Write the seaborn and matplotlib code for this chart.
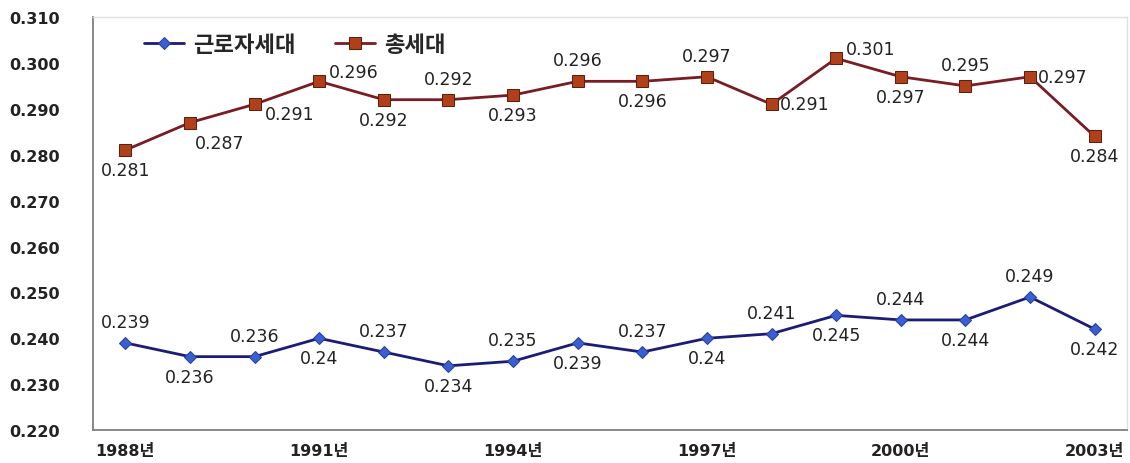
"""
Gini coefficient trend: worker households vs all households (1988-2003).
"""

import matplotlib
matplotlib.use('Agg')
import matplotlib.pyplot as plt
from matplotlib.ticker import FixedLocator, NullFormatter
import pandas as pd
import seaborn as sns

years = list(range(1988, 2004))
tick_years = [1988, 1991, 1994, 1997, 2000, 2003]
tick_labels = [f'{y}년' for y in tick_years]
y_ticks = [0.22, 0.23, 0.24, 0.25, 0.26, 0.27, 0.28, 0.29, 0.30, 0.31]

worker_name = '근로자세대'
total_name = '총세대'
worker_gini = [0.239, 0.236, 0.236, 0.240, 0.237, 0.234, 0.235, 0.239,
               0.237, 0.240, 0.241, 0.245, 0.244, 0.244, 0.249, 0.242]
total_gini = [0.281, 0.287, 0.291, 0.296, 0.292, 0.292, 0.293, 0.296,
              0.296, 0.297, 0.291, 0.301, 0.297, 0.295, 0.297, 0.284]

# where each data label sits relative to its marker
worker_place = ['above', 'below'] * 8
total_place = ['below', 'belowright', 'right_lo', 'right_hi', 'below', 'above',
               'below', 'above', 'below', 'above', 'right', 'right_hi',
               'below', 'above', 'right', 'below']

OFFSETS = {
    'above': ((0, 12), 'center', 'bottom'),
    'below': ((0, -11), 'center', 'top'),
    'belowright': ((30, -20), 'center', 'center'),
    'right': ((8, 0), 'left', 'center'),
    'right_lo': ((10, -10), 'left', 'center'),
    'right_hi': ((10, 9), 'left', 'center'),
}

sns.set_style('white')
plt.rcParams['font.family'] = ['DejaVu Sans', 'Noto Sans CJK KR']

df = pd.DataFrame({'year': years, 'worker': worker_gini, 'total': total_gini})

fig = plt.figure(figsize=(11.3, 4.64), dpi=100)
ax = fig.add_axes([0.0823, 0.071, 0.915, 0.890])

sns.lineplot(data=df, x='year', y='worker', ax=ax, color='#1c1c78', linewidth=2,
             marker='D', markersize=6, markerfacecolor='#3a5fd0',
             markeredgecolor='#2a3f9a', label=worker_name)
sns.lineplot(data=df, x='year', y='total', ax=ax, color='#7a1c24', linewidth=2,
             marker='s', markersize=8.5, markerfacecolor='#b0401a',
             markeredgecolor='#5a2010', label=total_name)


def label_points(values, places):
    for x, v, p in zip(years, values, places):
        (dx, dy), ha, va = OFFSETS[p]
        ax.annotate(f'{v:g}', (x, v), xytext=(dx, dy), textcoords='offset pixels',
                    ha=ha, va=va, fontsize=12.5, color='#222222')


label_points(worker_gini, worker_place)
label_points(total_gini, total_place)

ax.set_xlim(years[0] - 0.5, years[-1] + 0.5)
ax.set_ylim(y_ticks[0], y_ticks[-1])
ax.set_xticks(tick_years)
ax.set_xticklabels(tick_labels, fontweight='bold', fontsize=11.5, color='#222222')
ax.xaxis.set_minor_locator(FixedLocator([y + 0.5 for y in years]))
ax.xaxis.set_minor_formatter(NullFormatter())
ax.tick_params(axis='x', which='major', length=0, pad=9)
ax.tick_params(axis='x', which='minor', length=4, direction='in', color='#808080')
ax.set_yticks(y_ticks)
ax.set_yticklabels([f'{t:.3f}' for t in y_ticks], fontweight='bold', fontsize=11.5,
                   color='#222222')
ax.tick_params(axis='y', length=4, direction='inout', color='#808080', pad=22)
ax.set_xlabel('')
ax.set_ylabel('')
ax.grid(False)

for side in ['left', 'bottom']:
    ax.spines[side].set_color('#808080')
    ax.spines[side].set_linewidth(1.3)
for side in ['top', 'right']:
    ax.spines[side].set_color('#e0e0e0')
    ax.spines[side].set_linewidth(1.0)

ax.legend(loc='upper left', bbox_to_anchor=(0.03, 1.01), ncol=2, frameon=False,
          handlelength=1.8, columnspacing=1.8, handletextpad=0.4,
          prop={'weight': 'bold', 'size': 16,
                'family': ['Noto Sans CJK KR', 'DejaVu Sans']})

fig.savefig('out.png', dpi=100)
